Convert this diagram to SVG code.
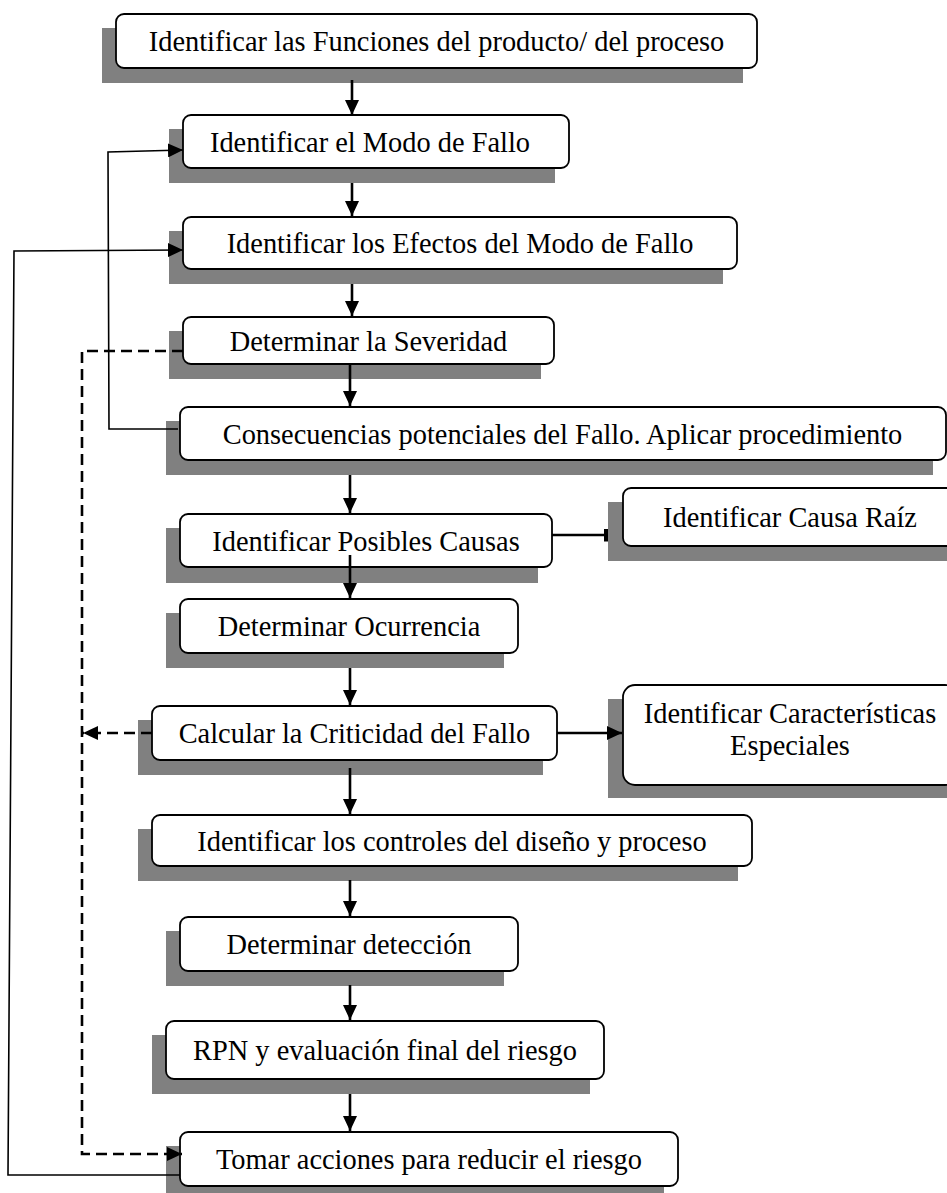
<svg xmlns="http://www.w3.org/2000/svg" width="947" height="1193" viewBox="0 0 947 1193">
  <style>
    .shadow { fill: #808080; }
    .box { fill: #ffffff; stroke: #000000; stroke-width: 1.8; }
    .label { font-family: "Liberation Serif", "Times New Roman", serif; font-size: 28.4px; fill: #000000; text-anchor: middle; }
    .flow { fill: none; stroke: #000000; stroke-width: 2.6; }
    .loop { fill: none; stroke: #000000; stroke-width: 1.6; }
    .dash { fill: none; stroke: #000000; stroke-width: 2.6; stroke-dasharray: 11 6; }
  </style>
  <defs>
    <marker id="arrow" viewBox="0 0 15 14" refX="15" refY="7" markerWidth="15" markerHeight="14" markerUnits="userSpaceOnUse" orient="auto">
      <path d="M0,0 L15,7 L0,14 Z" fill="#000000"/>
    </marker>
    <marker id="tee" viewBox="0 0 4 13" refX="4" refY="6.5" markerWidth="4" markerHeight="13" markerUnits="userSpaceOnUse" orient="auto">
      <rect x="0" y="0" width="4" height="13" fill="#000000"/>
    </marker>
  </defs>

  <!-- process steps: shadow, rounded box, label -->
  <g id="n1">
    <rect class="shadow" x="102" y="28" width="641" height="55"/>
    <rect class="box" x="116" y="14" width="641" height="54" rx="8"/>
    <text class="label" x="436.5" y="51">Identificar las Funciones del producto/ del proceso</text>
  </g>
  <g id="n2">
    <rect class="shadow" x="169" y="129" width="386" height="54"/>
    <rect class="box" x="183" y="115" width="386" height="53" rx="8"/>
    <text class="label" x="370" y="151.5">Identificar el Modo de Fallo</text>
  </g>
  <g id="n3">
    <rect class="shadow" x="169" y="231" width="554" height="53"/>
    <rect class="box" x="183" y="217" width="554" height="52" rx="8"/>
    <text class="label" x="460" y="253">Identificar los Efectos del Modo de Fallo</text>
  </g>
  <g id="n4">
    <rect class="shadow" x="169" y="331" width="372" height="48"/>
    <rect class="box" x="183" y="317" width="371" height="47" rx="8"/>
    <text class="label" x="368.5" y="350.5">Determinar la Severidad</text>
  </g>
  <g id="n5">
    <rect class="shadow" x="166" y="421" width="767" height="54"/>
    <rect class="box" x="180" y="407" width="766" height="53" rx="8"/>
    <text class="label" x="562.5" y="443.5">Consecuencias potenciales del Fallo. Aplicar procedimiento</text>
  </g>
  <g id="n6">
    <rect class="shadow" x="166" y="528" width="372" height="55"/>
    <rect class="box" x="180" y="514" width="372" height="53" rx="8"/>
    <text class="label" x="366" y="550.5">Identificar Posibles Causas</text>
  </g>
  <g id="n7">
    <rect class="shadow" x="608" y="502" width="350" height="59"/>
    <rect class="box" x="623" y="488" width="334" height="58" rx="8"/>
    <text class="label" x="790" y="527">Identificar Causa Raíz</text>
  </g>
  <g id="n8">
    <rect class="shadow" x="166" y="613" width="338" height="55"/>
    <rect class="box" x="180" y="599" width="338" height="54" rx="8"/>
    <text class="label" x="349" y="636">Determinar Ocurrencia</text>
  </g>
  <g id="n9">
    <rect class="shadow" x="138" y="720" width="405" height="55"/>
    <rect class="box" x="152" y="706" width="405" height="54" rx="8"/>
    <text class="label" x="354.5" y="743">Calcular la Criticidad del Fallo</text>
  </g>
  <g id="n10">
    <rect class="shadow" x="608" y="699" width="350" height="99"/>
    <rect class="box" x="623" y="685" width="334" height="100" rx="12"/>
    <text class="label" x="790" y="723">Identificar Características</text>
    <text class="label" x="790" y="755">Especiales</text>
  </g>
  <g id="n11">
    <rect class="shadow" x="138" y="829" width="600" height="52"/>
    <rect class="box" x="152" y="815" width="600" height="51" rx="8"/>
    <text class="label" x="452" y="850.5">Identificar los controles del diseño y proceso</text>
  </g>
  <g id="n12">
    <rect class="shadow" x="166" y="931" width="338" height="55"/>
    <rect class="box" x="180" y="917" width="338" height="54" rx="8"/>
    <text class="label" x="349" y="954">Determinar detección</text>
  </g>
  <g id="n13">
    <rect class="shadow" x="152" y="1035" width="438" height="59"/>
    <rect class="box" x="166" y="1021" width="438" height="58" rx="8"/>
    <text class="label" x="385" y="1060">RPN y evaluación final del riesgo</text>
  </g>
  <g id="n14">
    <rect class="shadow" x="166" y="1146" width="498" height="47"/>
    <rect class="box" x="180" y="1132" width="498" height="54" rx="8"/>
    <text class="label" x="429" y="1169">Tomar acciones para reducir el riesgo</text>
  </g>

  <!-- connectors -->
  <g id="connectors">
    <!-- main sequence -->
    <line class="flow" x1="352" y1="80" x2="352" y2="115" marker-end="url(#arrow)"/>
    <line class="flow" x1="352" y1="183" x2="352" y2="216" marker-end="url(#arrow)"/>
    <line class="flow" x1="352" y1="284" x2="352" y2="316" marker-end="url(#arrow)"/>
    <line class="flow" x1="350" y1="365" x2="350" y2="406" marker-end="url(#arrow)"/>
    <line class="flow" x1="350" y1="475" x2="350" y2="513" marker-end="url(#arrow)"/>
    <line class="flow" x1="350" y1="555" x2="350" y2="598" marker-end="url(#arrow)"/>
    <line class="flow" x1="350" y1="668" x2="350" y2="705" marker-end="url(#arrow)"/>
    <line class="flow" x1="350" y1="768" x2="350" y2="814" marker-end="url(#arrow)"/>
    <line class="flow" x1="350" y1="880" x2="350" y2="916" marker-end="url(#arrow)"/>
    <line class="flow" x1="350" y1="985" x2="350" y2="1020" marker-end="url(#arrow)"/>
    <line class="flow" x1="350" y1="1094" x2="350" y2="1131" marker-end="url(#arrow)"/>

    <!-- side branches -->
    <line class="flow" x1="552" y1="535" x2="608" y2="535" marker-end="url(#tee)"/>
    <line class="flow" x1="557" y1="733" x2="622" y2="733" marker-end="url(#arrow)"/>

    <!-- feedback loops -->
    <polyline class="loop" points="178,429 109,429 108,152 183,150" marker-end="url(#arrow)"/>
    <polyline class="loop" points="180,1175 8,1175 14,251 183,250" marker-end="url(#arrow)"/>
    <polyline class="dash" points="183,351 82,351 82,1154 182,1154" marker-end="url(#arrow)"/>
    <line class="dash" x1="152" y1="733" x2="83" y2="733" marker-end="url(#arrow)"/>
  </g>
</svg>
